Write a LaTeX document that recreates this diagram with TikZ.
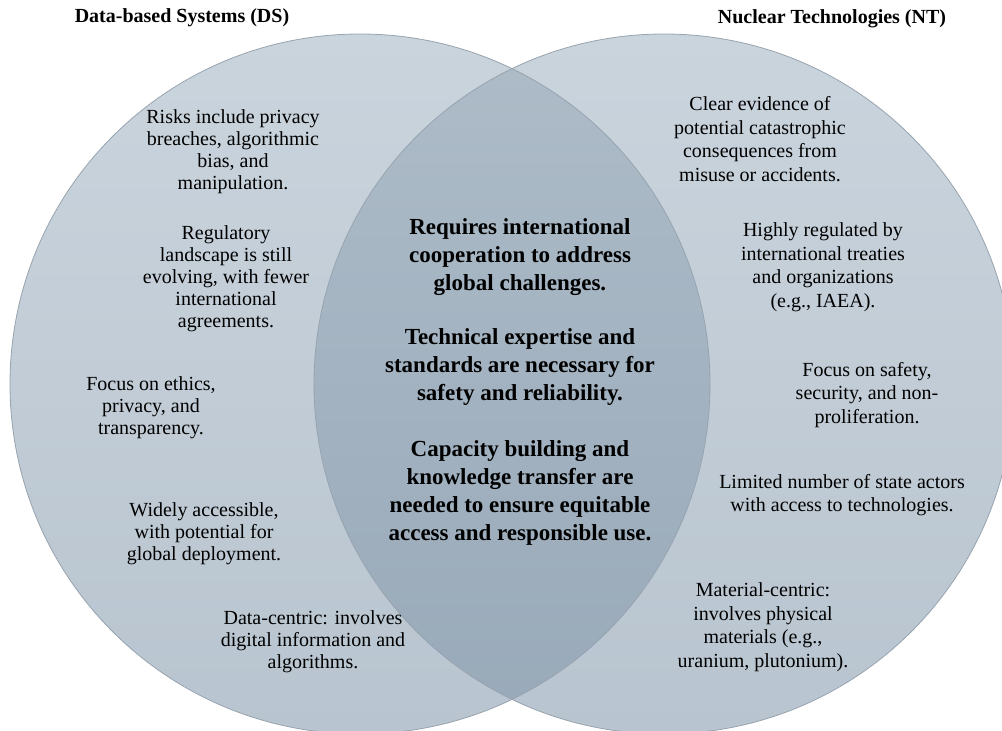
\documentclass[tikz,border=0pt]{standalone}
\usepackage{fontspec}
\setmainfont{Liberation Serif}

\definecolor{ringtop}{HTML}{CAD4DD}
\definecolor{ringbot}{HTML}{B8C4CF}
\definecolor{lenstop}{HTML}{AEBCC8}
\definecolor{lensbot}{HTML}{98A9B9}
\definecolor{ringline}{HTML}{97A3AF}

\begin{document}
\begin{tikzpicture}[x=1pt,y=1pt,
  item/.style={align=center, font=\fontsize{20}{22}\selectfont, text=black, inner sep=0pt},
  itemr/.style={item, font=\fontsize{20}{23.5}\selectfont},
  shared/.style={align=center, font=\fontsize{23}{27.7}\selectfont\bfseries, inner sep=0pt},
  heading/.style={font=\fontsize{20}{24}\selectfont\bfseries, inner sep=0pt},
  ring/.style={draw=ringline, line width=0.8pt}]

\useasboundingbox (0,0) rectangle (1002,731);
\clip (0,0) rectangle (1002,731);

% the two sets
\coordinate (dsc) at (360,347);
\coordinate (ntc) at (664,347);
\shade[top color=ringtop, bottom color=ringbot] (dsc) circle[radius=350];
\shade[top color=ringtop, bottom color=ringbot] (ntc) circle[radius=350];

% their intersection
\begin{scope}
  \clip (dsc) circle[radius=350];
  \shade[top color=lenstop, bottom color=lensbot] (ntc) circle[radius=350];
\end{scope}
\draw[ring] (dsc) circle[radius=350];
\draw[ring] (ntc) circle[radius=350];

% headings
\node[heading] (dstitle) at (182,713) {Data-based Systems (DS)};
\node[heading] (nttitle) at (832,712) {Nuclear Technologies (NT)};

% data-based systems only
\node[item] (risks) at (233,579) {Risks include privacy\\breaches, algorithmic\\bias, and\\manipulation.};
\node[item] (regul) at (226,452) {Regulatory\\landscape is still\\evolving, with fewer\\international\\agreements.};
\node[item] (ethics) at (151,323) {Focus on ethics,\\privacy, and\\transparency.};
\node[item] (access) at (204,197) {Widely accessible,\\with potential for\\global deployment.};
\node[item] (datac) at (313,89) {Data-centric: involves\\digital information and\\algorithms.};

% shared
\node[shared] (coop) at (520,474) {Requires international\\cooperation to address\\global challenges.};
\node[shared] (tech) at (520,364) {Technical expertise and\\standards are necessary for\\safety and reliability.};
\node[shared] (capac) at (520,238) {Capacity building and\\knowledge transfer are\\needed to ensure equitable\\access and responsible use.};

% nuclear technologies only
\node[itemr] (clear) at (760,592) {Clear evidence of\\potential catastrophic\\consequences from\\misuse or accidents.};
\node[itemr] (treaty) at (823,464) {Highly regulated by\\international treaties\\and organizations\\(e.g., IAEA).};
\node[itemr] (safety) at (867,336) {Focus on safety,\\security, and non-\\proliferation.};
\node[itemr] (limited) at (842,236) {Limited number of state actors\\with access to technologies.};
\node[itemr] (material) at (763,104) {Material-centric:\\involves physical\\materials (e.g.,\\uranium, plutonium).};
\end{tikzpicture}
\end{document}
